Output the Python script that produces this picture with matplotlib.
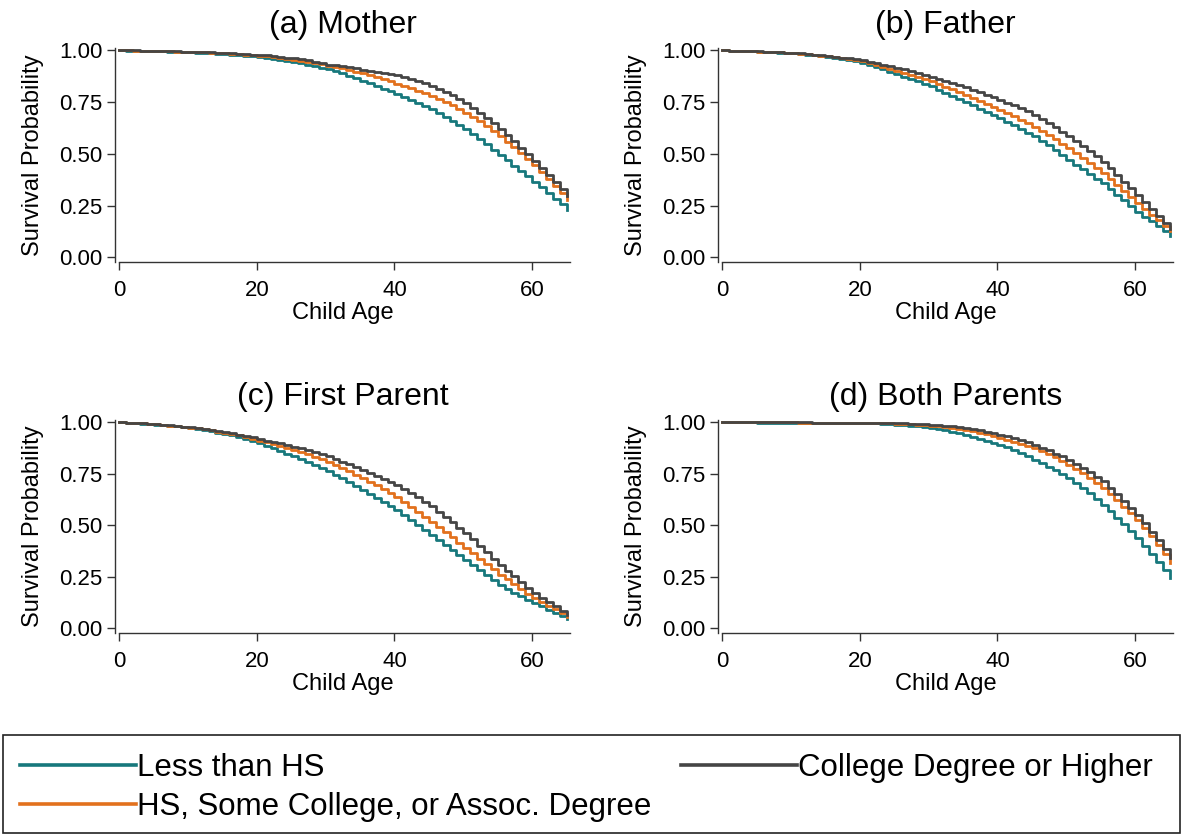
import numpy as np
import matplotlib
matplotlib.use("Agg")
import matplotlib.pyplot as plt
from matplotlib.patches import Rectangle

plt.rcParams['font.family'] = ['Liberation Sans', 'DejaVu Sans']

ages = np.arange(0, 66)

# (a) Mother
mother_lths = [1.000, 0.999, 0.999, 0.998, 0.998, 0.997, 0.996, 0.995, 0.994, 0.993,
               0.992, 0.990, 0.989, 0.987, 0.985, 0.983, 0.980, 0.977, 0.974, 0.971,
               0.968, 0.964, 0.960, 0.955, 0.950, 0.944, 0.938, 0.931, 0.924, 0.917,
               0.910, 0.900, 0.889, 0.878, 0.866, 0.854, 0.842, 0.829, 0.816, 0.803,
               0.790, 0.776, 0.762, 0.747, 0.731, 0.715, 0.698, 0.680, 0.661, 0.641,
               0.620, 0.596, 0.571, 0.546, 0.521, 0.495, 0.469, 0.443, 0.417, 0.391,
               0.366, 0.339, 0.312, 0.284, 0.256, 0.229]
mother_hs = [1.000, 1.000, 0.999, 0.999, 0.998, 0.998, 0.997, 0.996, 0.995, 0.994,
             0.993, 0.992, 0.991, 0.990, 0.988, 0.986, 0.984, 0.982, 0.979, 0.977,
             0.974, 0.971, 0.967, 0.963, 0.959, 0.955, 0.950, 0.945, 0.939, 0.933,
             0.927, 0.920, 0.913, 0.905, 0.897, 0.889, 0.880, 0.871, 0.861, 0.851,
             0.840, 0.829, 0.818, 0.806, 0.793, 0.780, 0.766, 0.751, 0.735, 0.718,
             0.700, 0.679, 0.657, 0.634, 0.610, 0.585, 0.559, 0.532, 0.504, 0.475,
             0.445, 0.413, 0.380, 0.346, 0.311, 0.275]
mother_col = [1.000, 1.000, 1.000, 0.999, 0.999, 0.998, 0.998, 0.997, 0.996, 0.995,
              0.994, 0.993, 0.992, 0.991, 0.990, 0.988, 0.986, 0.984, 0.982, 0.980,
              0.979, 0.976, 0.973, 0.970, 0.966, 0.962, 0.957, 0.952, 0.946, 0.939,
              0.932, 0.928, 0.923, 0.918, 0.913, 0.908, 0.903, 0.897, 0.891, 0.885,
              0.879, 0.871, 0.862, 0.852, 0.841, 0.829, 0.815, 0.800, 0.784, 0.766,
              0.746, 0.724, 0.700, 0.675, 0.648, 0.620, 0.591, 0.561, 0.530, 0.498,
              0.465, 0.431, 0.397, 0.363, 0.329, 0.295]

# (b) Father
father_lths = [1.000, 0.999, 0.998, 0.997, 0.996, 0.995, 0.994, 0.992, 0.990, 0.988,
               0.986, 0.983, 0.980, 0.977, 0.973, 0.969, 0.965, 0.960, 0.954, 0.947,
               0.940, 0.932, 0.922, 0.911, 0.898, 0.886, 0.874, 0.862, 0.850, 0.838,
               0.826, 0.811, 0.796, 0.781, 0.766, 0.750, 0.735, 0.719, 0.704, 0.688,
               0.673, 0.656, 0.639, 0.621, 0.603, 0.584, 0.563, 0.541, 0.518, 0.495,
               0.471, 0.448, 0.425, 0.403, 0.380, 0.358, 0.331, 0.303, 0.275, 0.247,
               0.220, 0.197, 0.174, 0.151, 0.128, 0.105]
father_hs = [1.000, 0.999, 0.998, 0.997, 0.996, 0.995, 0.994, 0.993, 0.991, 0.989,
             0.987, 0.984, 0.981, 0.978, 0.975, 0.971, 0.967, 0.962, 0.957, 0.952,
             0.947, 0.939, 0.930, 0.920, 0.911, 0.901, 0.891, 0.881, 0.871, 0.861,
             0.850, 0.838, 0.825, 0.812, 0.798, 0.784, 0.770, 0.756, 0.742, 0.728,
             0.713, 0.698, 0.682, 0.666, 0.649, 0.632, 0.612, 0.592, 0.571, 0.549,
             0.527, 0.504, 0.480, 0.456, 0.431, 0.406, 0.378, 0.349, 0.320, 0.290,
             0.260, 0.233, 0.206, 0.179, 0.152, 0.125]
father_col = [1.000, 0.999, 0.999, 0.998, 0.997, 0.996, 0.995, 0.994, 0.992, 0.990,
              0.988, 0.986, 0.983, 0.980, 0.977, 0.974, 0.970, 0.966, 0.962, 0.957,
              0.952, 0.946, 0.939, 0.932, 0.925, 0.917, 0.909, 0.901, 0.892, 0.883,
              0.874, 0.864, 0.854, 0.843, 0.832, 0.821, 0.809, 0.797, 0.785, 0.773,
              0.761, 0.748, 0.735, 0.720, 0.705, 0.689, 0.670, 0.650, 0.629, 0.607,
              0.584, 0.561, 0.537, 0.513, 0.488, 0.463, 0.432, 0.399, 0.366, 0.333,
              0.300, 0.267, 0.234, 0.201, 0.168, 0.135]

# (c) First Parent
first_lths = [1.000, 0.998, 0.996, 0.994, 0.992, 0.990, 0.987, 0.984, 0.981, 0.977,
              0.973, 0.968, 0.963, 0.957, 0.951, 0.945, 0.938, 0.930, 0.921, 0.911,
              0.900, 0.888, 0.875, 0.862, 0.849, 0.835, 0.821, 0.807, 0.792, 0.777,
              0.762, 0.745, 0.728, 0.710, 0.692, 0.673, 0.654, 0.634, 0.614, 0.595,
              0.575, 0.551, 0.527, 0.503, 0.479, 0.454, 0.430, 0.405, 0.381, 0.356,
              0.332, 0.307, 0.283, 0.258, 0.234, 0.210, 0.191, 0.173, 0.156, 0.139,
              0.122, 0.106, 0.090, 0.075, 0.059, 0.044]
first_hs = [1.000, 0.998, 0.997, 0.995, 0.993, 0.991, 0.988, 0.985, 0.982, 0.979,
            0.975, 0.971, 0.966, 0.961, 0.956, 0.950, 0.944, 0.937, 0.929, 0.921,
            0.912, 0.904, 0.895, 0.886, 0.877, 0.867, 0.856, 0.845, 0.834, 0.822,
            0.810, 0.795, 0.779, 0.763, 0.747, 0.730, 0.712, 0.694, 0.675, 0.656,
            0.637, 0.614, 0.590, 0.566, 0.542, 0.518, 0.493, 0.467, 0.442, 0.416,
            0.390, 0.364, 0.338, 0.312, 0.286, 0.260, 0.237, 0.214, 0.191, 0.168,
            0.146, 0.128, 0.110, 0.092, 0.075, 0.057]
first_col = [1.000, 0.999, 0.997, 0.995, 0.993, 0.991, 0.989, 0.986, 0.983, 0.980,
             0.977, 0.973, 0.969, 0.964, 0.959, 0.954, 0.948, 0.941, 0.934, 0.927,
             0.919, 0.912, 0.905, 0.898, 0.891, 0.883, 0.874, 0.864, 0.855, 0.845,
             0.835, 0.823, 0.810, 0.797, 0.784, 0.770, 0.756, 0.742, 0.727, 0.712,
             0.697, 0.678, 0.658, 0.637, 0.615, 0.592, 0.567, 0.541, 0.515, 0.489,
             0.462, 0.432, 0.401, 0.370, 0.339, 0.308, 0.280, 0.252, 0.225, 0.197,
             0.170, 0.149, 0.128, 0.107, 0.086, 0.065]

# (d) Both Parents
both_lths = [1.000, 1.000, 1.000, 1.000, 1.000, 0.999, 0.999, 0.999, 0.999, 0.999,
             0.999, 0.999, 0.998, 0.998, 0.998, 0.998, 0.997, 0.997, 0.997, 0.997,
             0.997, 0.996, 0.995, 0.994, 0.992, 0.990, 0.987, 0.984, 0.981, 0.977,
             0.973, 0.967, 0.961, 0.955, 0.948, 0.940, 0.931, 0.922, 0.912, 0.902,
             0.892, 0.879, 0.866, 0.851, 0.836, 0.820, 0.803, 0.786, 0.768, 0.749,
             0.730, 0.706, 0.681, 0.655, 0.628, 0.600, 0.569, 0.537, 0.505, 0.472,
             0.438, 0.400, 0.361, 0.322, 0.283, 0.243]
both_hs = [1.000, 1.000, 1.000, 1.000, 1.000, 1.000, 1.000, 1.000, 1.000, 1.000,
           1.000, 0.999, 0.999, 0.999, 0.999, 0.999, 0.999, 0.999, 0.998, 0.998,
           0.998, 0.998, 0.997, 0.996, 0.995, 0.994, 0.993, 0.991, 0.989, 0.987,
           0.985, 0.982, 0.978, 0.974, 0.969, 0.964, 0.957, 0.950, 0.942, 0.933,
           0.924, 0.916, 0.907, 0.897, 0.887, 0.876, 0.862, 0.847, 0.831, 0.813,
           0.795, 0.775, 0.754, 0.731, 0.707, 0.681, 0.652, 0.622, 0.591, 0.559,
           0.527, 0.487, 0.446, 0.404, 0.361, 0.316]
both_col = [1.000, 1.000, 1.000, 1.000, 1.000, 1.000, 1.000, 1.000, 1.000, 1.000,
            1.000, 1.000, 1.000, 0.999, 0.999, 0.999, 0.999, 0.999, 0.999, 0.999,
            0.999, 0.998, 0.998, 0.997, 0.997, 0.996, 0.995, 0.994, 0.993, 0.992,
            0.990, 0.988, 0.985, 0.982, 0.978, 0.973, 0.967, 0.961, 0.955, 0.948,
            0.940, 0.932, 0.923, 0.913, 0.903, 0.892, 0.878, 0.864, 0.849, 0.835,
            0.820, 0.800, 0.779, 0.758, 0.736, 0.714, 0.684, 0.653, 0.620, 0.586,
            0.551, 0.511, 0.470, 0.428, 0.385, 0.340]

titles = ["(a) Mother", "(b) Father", "(c) First Parent", "(d) Both Parents"]
panels = [
    (mother_lths, mother_hs, mother_col),
    (father_lths, father_hs, father_col),
    (first_lths, first_hs, first_col),
    (both_lths, both_hs, both_col),
]
labels = ["Less than HS", "HS, Some College, or Assoc. Degree", "College Degree or Higher"]
colors = ["#17787c", "#e2711d", "#454545"]

W, H = 1182, 836
fig = plt.figure(figsize=(W / 100, H / 100), dpi=100)

# axes boxes in pixels: left, top, width, height
boxes = [(115, 48, 455, 214), (718, 48, 455, 214),
         (115, 420, 455, 213), (718, 420, 455, 213)]

lines = []
for (l, t, w, h), title, series in zip(boxes, titles, panels):
    ax = fig.add_axes([l / W, 1 - (t + h) / H, w / W, h / H])
    for vals, c in zip(series, colors):
        ln, = ax.plot(ages, vals, drawstyle="steps-post", color=c, lw=2.0)
        if len(lines) < 3:
            lines.append(ln)
    ax.set_xlim(-0.6, 65.5)
    ax.set_ylim(-0.023, 1.012)
    ax.set_xticks([0, 20, 40, 60])
    ax.set_yticks([0, 0.25, 0.5, 0.75, 1.0])
    ax.set_yticklabels(["0.00", "0.25", "0.50", "0.75", "1.00"])
    for s in ["top", "right"]:
        ax.spines[s].set_visible(False)
    ax.spines["bottom"].set_bounds(0, 65.5)
    for s in ["left", "bottom"]:
        ax.spines[s].set_color("#333333")
        ax.spines[s].set_linewidth(1.0)
    ax.tick_params(direction="out", length=6, width=1, colors="#333333",
                   labelcolor="black", labelsize=16, pad=3)
    ax.tick_params(axis="x", pad=7)
    ax.set_xlabel("Child Age", fontsize=17, labelpad=1)
    ax.set_ylabel("Survival Probability", fontsize=17, labelpad=11)
    ax.set_title(title, fontsize=23, pad=0, y=1 + 15 / h)

# legend box spanning the figure width
fig.patches.append(Rectangle((3 / W, 3 / H), 1177 / W, 98 / H,
                             transform=fig.transFigure, fill=False,
                             edgecolor="#222222", linewidth=1.2))
leg = fig.legend(lines, labels, loc="upper left", ncol=2,
                 bbox_to_anchor=(20 / W, 1 - 753 / H),
                 fontsize=22.5, handlelength=3.7, handletextpad=0.05,
                 columnspacing=0.95, frameon=False, borderpad=0.0,
                 labelspacing=0.3, borderaxespad=0.0)
for ln in leg.get_lines():
    ln.set_linewidth(2.6)

fig.savefig("out.png", dpi=100)
